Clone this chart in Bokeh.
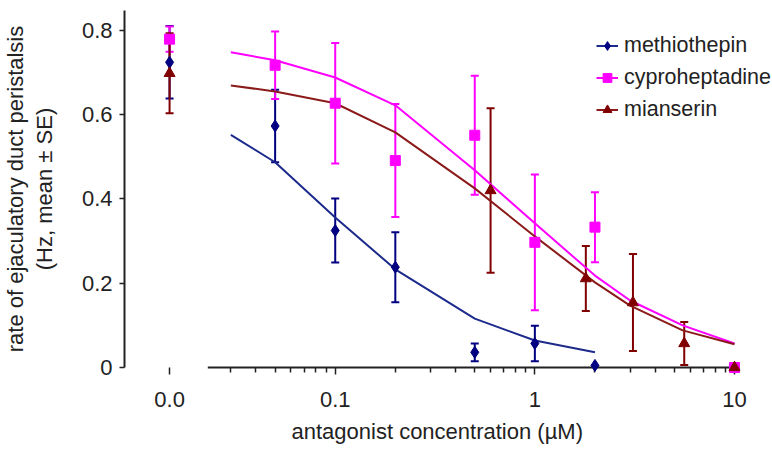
from bokeh.plotting import figure
from bokeh.models import (ColumnDataSource, Whisker, TeeHead, FixedTicker, Legend,
                          LegendItem, Range1d, Title)
from bokeh.embed import file_html
from bokeh.resources import INLINE

# ---------------- data ----------------
CTRL_X = 0.0148          # position used for the "0.0" (control) column on the log axis
X_AXIS_START = 0.023
X_VIEW = (0.0088, 15.5)
Y_VIEW = (0, 0.847)
X_MAJOR = [CTRL_X, 0.1, 1, 10]
X_LABELS = ["0.0", "0.1", "1", "10"]
X_MINOR = [0.03, 0.04, 0.05, 0.06, 0.07, 0.08, 0.09,
           0.2, 0.3, 0.4, 0.5, 0.6, 0.7, 0.8, 0.9,
           2, 3, 4, 5, 6, 7, 8, 9]
Y_TICKS = [0, 0.2, 0.4, 0.6, 0.8]
Y_TITLE = "rate of ejaculatory duct peristalsis\n(Hz, mean \u00b1 SE)"
X_TITLE = "antagonist concentration (\u00b5M)"

series_names = ["methiothepin", "cyproheptadine", "mianserin"]

meth_ctrl, meth_ctrl_se = 0.724, 0.086
meth_conc = [0.05, 0.1, 0.2, 0.5, 1, 2]
meth_mean = [0.573, 0.325, 0.238, 0.036, 0.057, 0.005]
meth_se = [0.086, 0.076, 0.083, 0.021, 0.042, 0.0]

cypro_ctrl, cypro_ctrl_se = 0.779, 0.030
cypro_conc = [0.05, 0.1, 0.2, 0.5, 1, 2, 10]
cypro_mean = [0.717, 0.627, 0.491, 0.551, 0.297, 0.333, 0.0]
cypro_se = [0.080, 0.143, 0.134, 0.141, 0.161, 0.083, 0.0]

mian_ctrl, mian_ctrl_se = 0.698, 0.095
mian_conc = [0.6, 1.8, 3.1, 5.6, 10]
mian_mean = [0.420, 0.211, 0.154, 0.057, 0.0]
mian_se = [0.195, 0.077, 0.115, 0.051, 0.0]

# fitted curves
fit_x = [0.03, 0.05, 0.1, 0.2, 0.5, 1, 2, 3, 5.5, 10]
meth_fit = [0.552, 0.487, 0.356, 0.233, 0.116, 0.064, 0.036]
cypro_fit = [0.748, 0.729, 0.688, 0.622, 0.468, 0.342, 0.218, 0.159, 0.100, 0.057]
mian_fit = [0.669, 0.655, 0.627, 0.558, 0.425, 0.311, 0.202, 0.147, 0.088, 0.055]

BLUE, BLUE_LINE = "#000080", "#1c2a8c"
PINK = "#ff00ff"
BROWN, BROWN_LINE = "#800000", "#8b1a1a"
TEXT = "#222222"
FONT = "Liberation Sans"

p = figure(width=772, height=450, x_axis_type="log",
           x_range=Range1d(*X_VIEW), y_range=Range1d(*Y_VIEW),
           output_backend="svg", toolbar_location=None,
           min_border_left=123, min_border_right=0, min_border_top=10,
           min_border_bottom=0)
p.outline_line_color = None
p.grid.visible = False

# axes
xa = p.xaxis[0]
xa.ticker = FixedTicker(ticks=X_MAJOR, minor_ticks=X_MINOR)
xa.major_label_overrides = {k: v for k, v in zip(X_MAJOR, X_LABELS)}
xa.axis_line_color = None
xa.major_tick_out, xa.major_tick_in = 7, 0
xa.minor_tick_out, xa.minor_tick_in = 5, 0
xa.major_tick_line_width = 1.5
xa.minor_tick_line_width = 1.5
xa.minor_tick_line_color = TEXT
xa.major_label_standoff = 17

ya = p.yaxis[0]
ya.ticker = FixedTicker(ticks=Y_TICKS)
ya.bounds = Y_VIEW
ya.axis_line_width = 2
ya.axis_line_color = TEXT
ya.major_tick_out, ya.major_tick_in = 5, 0
ya.minor_tick_line_color = None
ya.major_tick_line_width = 1.5
ya.major_label_standoff = 7
ya.axis_label = Y_TITLE
ya.axis_label_standoff = 22
ya.axis_label_text_line_height = 1.15

for ax in (xa, ya):
    ax.major_label_text_font = FONT
    ax.major_label_text_font_size = "22px"
    ax.major_label_text_color = TEXT
    ax.axis_label_text_font = FONT
    ax.axis_label_text_font_size = "22px"
    ax.axis_label_text_font_style = "normal"
    ax.axis_label_text_color = TEXT
    ax.major_tick_line_color = TEXT

# x-axis title (left-aligned so it sits where the original has it)
xt = Title(text=X_TITLE, align="left", offset=167, standoff=13.5,
           text_font=FONT, text_font_size="22px", text_font_style="normal",
           text_color=TEXT)
p.add_layout(xt, "below")

# x axis line (starts after the control column)
p.line(x=[X_AXIS_START, X_MAJOR[-1]], y=[0, 0], line_color=TEXT, line_width=2,
       level="overlay")

# error bars
def whisk(xs, ms, ses, color):
    pts = [(x, m, s) for x, m, s in zip(xs, ms, ses) if s > 0]
    src = ColumnDataSource(dict(x=[a for a, _, _ in pts],
                                lo=[m - s for _, m, s in pts],
                                hi=[m + s for _, m, s in pts]))
    w = Whisker(source=src, base="x", lower="lo", upper="hi",
                line_color=color, line_width=2,
                upper_head=TeeHead(size=8, line_color=color, line_width=2),
                lower_head=TeeHead(size=8, line_color=color, line_width=2))
    p.add_layout(w)

whisk([CTRL_X] + meth_conc, [meth_ctrl] + meth_mean, [meth_ctrl_se] + meth_se, BLUE)
whisk([CTRL_X] + cypro_conc, [cypro_ctrl] + cypro_mean, [cypro_ctrl_se] + cypro_se, PINK)
whisk([CTRL_X] + mian_conc, [mian_ctrl] + mian_mean, [mian_ctrl_se] + mian_se, BROWN)

# fitted lines
l_meth = p.line(fit_x[:len(meth_fit)], meth_fit, line_color=BLUE_LINE, line_width=2)
l_cypro = p.line(fit_x, cypro_fit, line_color=PINK, line_width=2)
l_mian = p.line(fit_x, mian_fit, line_color=BROWN_LINE, line_width=2)

# markers
s_meth = p.scatter([CTRL_X] + meth_conc, [meth_ctrl] + meth_mean, marker="diamond",
                   size=12, color=BLUE, level="overlay")
s_cypro = p.scatter([CTRL_X] + cypro_conc, [cypro_ctrl] + cypro_mean, marker="square",
                    size=10, color=PINK, level="overlay")
s_mian = p.scatter([CTRL_X] + mian_conc, [mian_ctrl] + mian_mean, marker="triangle",
                   size=11, color=BROWN, level="overlay")

legend = Legend(items=[LegendItem(label=series_names[0], renderers=[l_meth, s_meth]),
                       LegendItem(label=series_names[1], renderers=[l_cypro, s_cypro]),
                       LegendItem(label=series_names[2], renderers=[l_mian, s_mian])],
                location=(472, 245), orientation="vertical",
                label_text_font=FONT, label_text_font_size="21.5px",
                label_text_color=TEXT,
                glyph_width=22, glyph_height=25, label_height=25,
                label_standoff=6, spacing=7, padding=0, margin=0,
                border_line_color=None, background_fill_alpha=0)
p.add_layout(legend, "center")

open("out.html", "w").write(file_html(p, INLINE))
